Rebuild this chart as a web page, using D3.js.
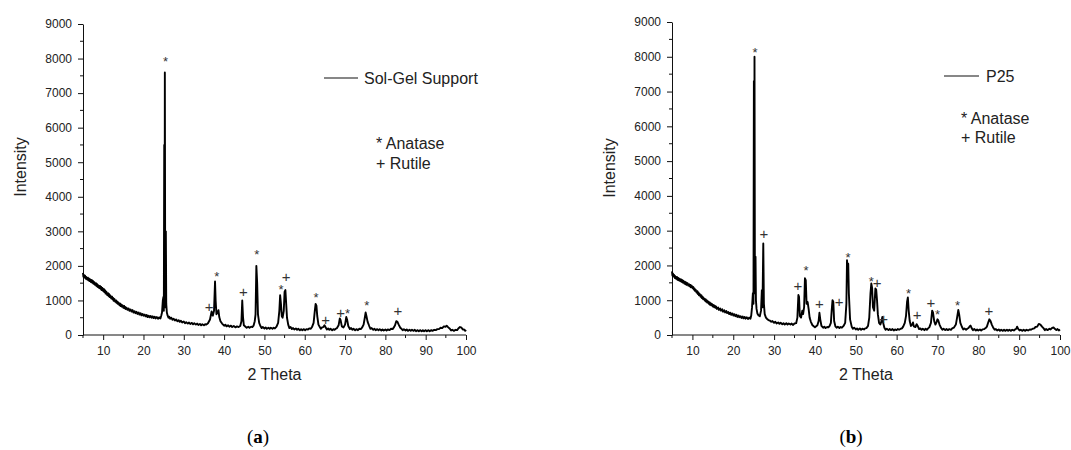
<!DOCTYPE html>
<html>
<head>
<meta charset="utf-8">
<script src="https://cdn.jsdelivr.net/npm/d3@7"></script>
<style>
  body { margin: 0; background: #fff; }
  svg text { font-family: "Liberation Sans", Arial, sans-serif; }
  .tick text { fill: #222; font-size: 12px; }
  .axis path, .axis line { stroke: #111; }
  .trace { fill: none; stroke: #000; stroke-width: 1.9; stroke-linejoin: round; }
  .mark { fill: #333; text-anchor: middle; }
  .legend { fill: #222; font-size: 16px; }
  .title { fill: #222; font-size: 16px; text-anchor: middle; }
  svg text.caption { font-family: "Liberation Serif", "DejaVu Serif", serif; font-size: 19px; fill: #000; text-anchor: middle; }
</style>
</head>
<body>
<svg id="chart" width="1071" height="450"></svg>
<script>
// tick labels
const xTickValues = [10, 20, 30, 40, 50, 60, 70, 80, 90, 100];
const yTickValues = [0, 1000, 2000, 3000, 4000, 5000, 6000, 7000, 8000, 9000];

// XRD pattern of the sol-gel support, [2 theta, intensity]
const solGelPattern = [
  [5.0,1800],[5.1,1690],[5.2,1740],[5.4,1660],[5.5,1720],[5.7,1630],[5.8,1680],[6.0,1610],[6.2,1660],[6.3,1580],
  [6.5,1630],[6.6,1560],[6.8,1610],[7.0,1530],[7.2,1590],[7.3,1510],[7.5,1560],[7.6,1480],[7.8,1530],[8.0,1450],
  [8.2,1500],[8.3,1420],[8.5,1470],[8.6,1390],[8.8,1440],[9.0,1360],[9.2,1420],[9.3,1340],[9.5,1390],[9.6,1300],
  [9.8,1360],[10.0,1270],[10.2,1330],[10.3,1240],[10.5,1290],[10.6,1200],[10.8,1250],[11.0,1160],[11.2,1210],[11.3,1130],
  [11.5,1180],[11.6,1100],[11.8,1140],[12.0,1060],[12.2,1110],[12.3,1030],[12.5,1070],[12.6,990],[12.8,1040],[13.0,960],
  [13.2,1000],[13.3,930],[13.5,970],[13.6,900],[13.8,940],[14.0,870],[14.2,910],[14.3,840],[14.5,880],[14.6,820],
  [14.8,860],[15.0,790],[15.2,840],[15.3,770],[15.5,810],[15.6,750],[15.8,790],[16.0,730],[16.3,770],[16.5,700],
  [16.8,740],[17.0,680],[17.3,720],[17.5,650],[17.8,690],[18.0,630],[18.3,670],[18.5,610],[18.8,650],[19.0,590],
  [19.3,630],[19.5,570],[19.8,610],[20.0,560],[20.3,590],[20.5,540],[20.8,580],[21.0,520],[21.3,560],[21.5,510],
  [21.8,550],[22.0,500],[22.3,540],[22.5,490],[22.8,530],[23.0,480],[23.3,520],[23.6,470],[23.9,510],[24.2,480],
  [24.4,560],[24.6,650],[24.8,1000],[24.95,1100],[25.05,700],[25.15,5500],[25.25,900],[25.3,7600],[25.4,800],[25.55,3000],
  [25.65,900],[25.8,650],[26.0,560],[26.2,500],[26.4,530],[26.6,470],[26.9,500],[27.2,440],[27.5,470],[27.8,420],
  [28.1,450],[28.4,400],[28.7,430],[29.0,380],[29.3,410],[29.6,360],[30.0,390],[30.3,340],[30.6,370],[31.0,330],
  [31.3,360],[31.6,320],[32.0,350],[32.3,310],[32.6,340],[33.0,300],[33.3,330],[33.6,290],[34.0,320],[34.3,280],
  [34.6,310],[35.0,280],[35.3,310],[35.6,300],[36.0,340],[36.5,450],[36.9,680],[37.2,560],[37.5,700],[37.75,1550],
  [37.9,1000],[38.1,600],[38.4,650],[38.6,720],[38.8,520],[39.1,400],[39.5,330],[40.0,270],[40.3,300],[40.6,250],
  [41.0,280],[41.3,240],[41.7,270],[42.0,230],[42.4,260],[42.8,220],[43.2,250],[43.6,230],[44.0,260],[44.3,400],
  [44.5,1000],[44.7,500],[44.9,280],[45.3,240],[45.6,210],[46.0,240],[46.3,210],[46.7,240],[47.0,230],[47.3,270],
  [47.6,400],[47.8,600],[48.0,2000],[48.2,1500],[48.4,600],[48.7,350],[49.0,260],[49.3,200],[49.6,230],[50.0,190],
  [50.3,220],[50.6,180],[51.0,210],[51.3,180],[51.6,210],[52.0,180],[52.3,210],[52.6,190],[53.0,240],[53.4,350],
  [53.7,700],[53.9,1150],[54.1,900],[54.3,550],[54.5,500],[54.8,700],[55.0,1250],[55.2,1300],[55.4,900],[55.6,500],
  [55.9,300],[56.2,200],[56.5,230],[56.8,170],[57.1,200],[57.4,160],[57.8,190],[58.1,150],[58.4,180],[58.8,140],
  [59.1,170],[59.4,140],[59.8,170],[60.1,140],[60.4,170],[60.8,160],[61.1,190],[61.5,180],[61.8,230],[62.2,350],
  [62.5,700],[62.7,900],[62.9,850],[63.1,550],[63.4,300],[63.8,220],[64.0,180],[64.3,220],[64.6,230],[64.9,280],
  [65.2,220],[65.5,160],[65.8,190],[66.1,150],[66.4,180],[66.8,140],[67.1,170],[67.4,150],[67.7,180],[68.0,200],
  [68.4,280],[68.7,480],[68.9,430],[69.2,250],[69.6,220],[70.0,300],[70.3,520],[70.5,450],[70.8,260],[71.2,170],
  [71.5,200],[71.8,150],[72.1,180],[72.5,140],[72.8,170],[73.2,140],[73.5,180],[73.9,170],[74.2,210],[74.6,300],
  [74.9,500],[75.1,650],[75.3,550],[75.6,380],[76.0,260],[76.3,180],[76.6,200],[77.0,150],[77.3,180],[77.6,140],
  [78.0,170],[78.3,140],[78.6,170],[79.0,130],[79.3,160],[79.6,130],[80.0,160],[80.3,130],[80.6,160],[81.0,140],
  [81.4,180],[81.8,170],[82.1,220],[82.4,280],[82.7,400],[83.0,380],[83.3,300],[83.7,210],[84.0,180],[84.3,140],
  [84.6,170],[85.0,130],[85.3,160],[85.6,120],[86.0,150],[86.3,120],[86.6,150],[87.0,120],[87.3,150],[87.6,110],
  [88.0,140],[88.3,110],[88.6,140],[89.0,110],[89.3,140],[89.6,110],[90.0,140],[90.3,110],[90.7,140],[91.0,110],
  [91.4,140],[91.7,120],[92.1,150],[92.5,140],[92.9,170],[93.3,170],[93.7,210],[94.1,200],[94.5,250],[94.9,240],
  [95.2,270],[95.6,220],[96.0,180],[96.3,130],[96.6,150],[97.0,120],[97.4,150],[97.8,140],[98.1,190],[98.5,230],
  [98.9,210],[99.2,160],[99.5,160],[99.8,120],[100,150]
];

// XRD pattern of P25
const p25Pattern = [
  [5.0,1830],[5.1,1710],[5.2,1770],[5.4,1680],[5.5,1730],[5.7,1640],[5.8,1690],[6.0,1620],[6.2,1670],[6.3,1590],
  [6.5,1640],[6.6,1570],[6.8,1620],[7.0,1550],[7.2,1600],[7.3,1530],[7.5,1580],[7.6,1510],[7.8,1560],[8.0,1480],
  [8.2,1530],[8.3,1460],[8.5,1510],[8.6,1440],[8.8,1490],[9.0,1420],[9.2,1460],[9.3,1400],[9.5,1440],[9.6,1370],
  [9.8,1420],[10.0,1350],[10.2,1380],[10.3,1310],[10.5,1340],[10.6,1270],[10.8,1300],[11.0,1220],[11.2,1260],[11.3,1180],
  [11.5,1220],[11.6,1140],[11.8,1180],[12.0,1100],[12.2,1140],[12.3,1060],[12.5,1100],[12.6,1030],[12.8,1060],[13.0,990],
  [13.2,1030],[13.3,960],[13.5,1000],[13.6,930],[13.8,970],[14.0,900],[14.2,940],[14.3,870],[14.5,910],[14.6,850],
  [14.8,890],[15.0,820],[15.2,860],[15.3,800],[15.5,840],[15.6,780],[15.8,820],[16.0,750],[16.3,790],[16.5,720],
  [16.8,760],[17.0,700],[17.3,740],[17.5,670],[17.8,710],[18.0,650],[18.3,690],[18.5,630],[18.8,660],[19.0,600],
  [19.3,640],[19.5,580],[19.8,620],[20.0,560],[20.3,600],[20.5,540],[20.8,580],[21.0,520],[21.3,560],[21.5,510],
  [21.8,540],[22.0,490],[22.3,530],[22.5,480],[22.8,520],[23.0,470],[23.3,510],[23.6,460],[23.9,500],[24.2,470],
  [24.4,560],[24.6,800],[24.8,1200],[24.95,900],[25.05,7300],[25.15,1500],[25.2,8000],[25.3,1200],[25.45,2250],[25.55,1000],
  [25.7,750],[25.9,620],[26.2,560],[26.5,540],[26.8,700],[27.0,1290],[27.15,800],[27.35,2630],[27.5,900],[27.7,600],
  [28.0,500],[28.3,460],[28.6,430],[29.0,410],[29.3,380],[29.6,400],[30.0,350],[30.3,380],[30.6,330],[31.0,360],
  [31.3,320],[31.6,350],[32.0,310],[32.3,340],[32.6,300],[33.0,340],[33.3,300],[33.6,330],[34.0,300],[34.3,330],
  [34.6,290],[35.0,330],[35.4,340],[35.7,500],[35.95,1150],[36.1,1100],[36.3,550],[36.6,500],[36.9,700],[37.1,600],
  [37.35,800],[37.55,1630],[37.75,1580],[37.95,900],[38.2,950],[38.45,750],[38.7,500],[39.0,380],[39.4,280],[39.7,250],
  [40.0,220],[40.3,250],[40.6,280],[40.9,400],[41.1,640],[41.3,450],[41.6,260],[42.0,210],[42.3,240],[42.6,200],
  [43.0,230],[43.3,220],[43.6,260],[43.9,350],[44.1,700],[44.3,1000],[44.5,950],[44.7,400],[45.0,250],[45.3,210],
  [45.6,240],[46.0,200],[46.3,230],[46.6,210],[47.0,260],[47.4,350],[47.7,900],[47.85,2150],[48.0,1900],[48.15,2050],
  [48.3,1200],[48.6,450],[49.0,240],[49.3,180],[49.6,210],[50.0,160],[50.3,190],[50.6,150],[51.0,190],[51.3,150],
  [51.6,180],[52.0,160],[52.3,190],[52.6,200],[53.0,260],[53.3,500],[53.6,1200],[53.8,1480],[54.0,1350],[54.2,800],
  [54.5,700],[54.8,1340],[55.0,1300],[55.2,1000],[55.4,600],[55.7,350],[56.0,300],[56.3,400],[56.5,520],[56.7,350],
  [57.0,210],[57.3,150],[57.6,180],[58.0,140],[58.3,170],[58.6,140],[59.0,170],[59.3,130],[59.6,160],[60.0,140],
  [60.3,170],[60.6,150],[61.0,180],[61.3,190],[61.6,240],[62.0,350],[62.3,550],[62.55,950],[62.75,1080],[62.95,700],
  [63.2,400],[63.5,260],[63.8,300],[64.0,360],[64.2,250],[64.6,230],[64.9,310],[65.2,250],[65.5,170],[65.8,190],
  [66.1,150],[66.4,180],[66.8,140],[67.1,180],[67.4,150],[67.7,190],[68.0,220],[68.4,350],[68.7,700],[68.9,650],
  [69.2,400],[69.5,300],[69.8,380],[70.0,450],[70.2,420],[70.5,300],[70.9,200],[71.2,150],[71.5,180],[71.9,140],
  [72.2,170],[72.6,140],[72.9,170],[73.3,150],[73.6,190],[74.0,210],[74.5,300],[74.8,500],[75.1,720],[75.3,600],
  [75.6,350],[76.0,230],[76.3,160],[76.6,190],[77.0,150],[77.3,180],[77.6,200],[77.9,250],[78.1,270],[78.4,190],
  [78.7,140],[79.0,170],[79.4,130],[79.7,160],[80.0,130],[80.4,160],[80.7,130],[81.0,160],[81.4,170],[81.8,200],
  [82.1,240],[82.4,350],[82.7,450],[83.0,400],[83.3,300],[83.7,200],[84.0,150],[84.3,170],[84.6,130],[85.0,160],
  [85.3,120],[85.6,150],[86.0,120],[86.3,150],[86.6,120],[87.0,150],[87.3,120],[87.6,150],[88.0,120],[88.3,150],
  [88.7,130],[89.0,160],[89.3,180],[89.5,240],[89.8,170],[90.1,130],[90.4,150],[90.8,120],[91.1,150],[91.5,120],
  [91.8,150],[92.2,130],[92.6,160],[92.9,150],[93.3,180],[93.7,190],[94.0,230],[94.4,240],[94.8,320],[95.2,300],
  [95.6,240],[96.0,190],[96.3,140],[96.6,170],[97.0,140],[97.4,180],[97.7,160],[98.0,200],[98.4,220],[98.8,170],
  [99.1,140],[99.4,170],[99.7,130],[100,160]
];

// phase markers: [2 theta, intensity, symbol]  (* anatase, + rutile)
const solGelMarks = [
  [25.5,8000,"*"],[36.3,820,"+"],[38.2,1760,"*"],[44.8,1240,"+"],[48.1,2410,"*"],[54.1,1400,"*"],
  [55.4,1670,"+"],[62.8,1160,"*"],[65.2,435,"+"],[68.9,630,"+"],[70.6,705,"*"],[75.4,920,"*"],[83.1,705,"+"]
];
const p25Marks = [
  [25.3,8190,"*"],[27.5,2900,"+"],[35.8,1410,"+"],[37.8,1920,"*"],[41.1,890,"+"],[45.9,960,"+"],
  [48.1,2300,"*"],[53.8,1600,"*"],[55.2,1500,"+"],[56.8,450,"+"],[62.9,1270,"*"],[65.0,575,"+"],
  [68.4,930,"+"],[70.0,670,"*"],[74.9,930,"*"],[82.6,700,"+"]
];

const panels = [
  { name: "Sol-Gel Support", pattern: solGelPattern, marks: solGelMarks, caption: "a",
    x0: 83, x1: 466, yTop: 24, yBottom: 335, titleY: 167,
    legendLine: [324, 358, 78], legendText: [364, 84], phaseText: [376, 149], phaseGap: 20, captionX: 258 },
  { name: "P25", pattern: p25Pattern, marks: p25Marks, caption: "b",
    x0: 672, x1: 1060, yTop: 22, yBottom: 335, titleY: 168,
    legendLine: [944, 979, 76], legendText: [986, 82], phaseText: [961, 124], phaseGap: 19, captionX: 851 }
];

const svg = d3.select("#chart");

function drawPanel(p)
{
    const x = d3.scaleLinear().domain([5, 100]).range([p.x0, p.x1]);
    const y = d3.scaleLinear().domain([0, 9000]).range([p.yBottom, p.yTop]);

    const g = svg.append("g");

    // minor ticks
    const minorX = d3.range(5, 101, 5).filter(v => v % 10 !== 0);
    const minorY = d3.range(500, 9000, 1000);
    g.selectAll(".minor-x").data(minorX).join("line")
        .attr("x1", d => x(d)).attr("x2", d => x(d))
        .attr("y1", p.yBottom).attr("y2", p.yBottom + 3)
        .attr("stroke", "#111");
    g.selectAll(".minor-y").data(minorY).join("line")
        .attr("y1", d => y(d)).attr("y2", d => y(d))
        .attr("x1", p.x0).attr("x2", p.x0 - 3)
        .attr("stroke", "#111");

    g.append("g")
        .attr("class", "axis")
        .attr("transform", `translate(0,${p.yBottom})`)
        .call(d3.axisBottom(x).tickValues(xTickValues).tickFormat(d3.format("d"))
            .tickSize(5).tickPadding(6).tickSizeOuter(0))
        .call(a => a.select(".domain").attr("d", `M${x(5)},0H${x(100)}`));

    g.append("g")
        .attr("class", "axis")
        .attr("transform", `translate(${p.x0},0)`)
        .call(d3.axisLeft(y).tickValues(yTickValues).tickFormat(d3.format("d"))
            .tickSize(5).tickPadding(6).tickSizeOuter(0));

    // trace
    const line = d3.line().x(d => x(d[0])).y(d => y(d[1]));
    g.append("path").datum(p.pattern).attr("class", "trace").attr("d", line);

    // phase markers
    g.selectAll(".mark").data(p.marks).join("text")
        .attr("class", "mark")
        .attr("x", d => x(d[0]))
        .attr("y", d => y(d[1]) + (d[2] === "*" ? 7 : 5))
        .attr("font-size", d => d[2] === "*" ? "13px" : "15px")
        .text(d => d[2]);

    // axis titles
    g.append("text").attr("class", "title")
        .attr("x", (p.x0 + p.x1) / 2 - 0).attr("y", 380)
        .text("2 Theta");
    g.append("text").attr("class", "title")
        .attr("transform", `translate(${p.x0 - 57},${p.titleY}) rotate(-90)`)
        .text("Intensity");

    // legend
    g.append("line")
        .attr("x1", p.legendLine[0]).attr("x2", p.legendLine[1])
        .attr("y1", p.legendLine[2]).attr("y2", p.legendLine[2])
        .attr("stroke", "#111").attr("stroke-width", 1.2);
    g.append("text").attr("class", "legend")
        .attr("x", p.legendText[0]).attr("y", p.legendText[1])
        .text(p.name);
    g.append("text").attr("class", "legend")
        .attr("x", p.phaseText[0]).attr("y", p.phaseText[1])
        .text("* Anatase");
    g.append("text").attr("class", "legend")
        .attr("x", p.phaseText[0]).attr("y", p.phaseText[1] + p.phaseGap)
        .text("+ Rutile");

    // caption
    const cap = g.append("text").attr("class", "caption")
        .attr("x", p.captionX).attr("y", 443);
    cap.append("tspan").text("(");
    cap.append("tspan").attr("font-weight", "bold").text(p.caption);
    cap.append("tspan").text(")");
}

panels.forEach(drawPanel);
</script>
</body>
</html>
